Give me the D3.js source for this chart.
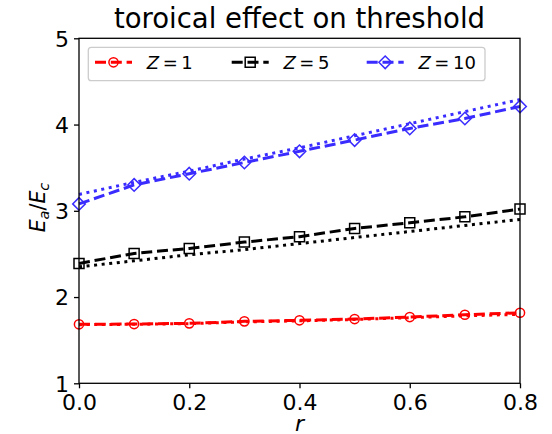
<!DOCTYPE html>
<html>
<head>
<meta charset="utf-8">
<script src="https://cdn.jsdelivr.net/npm/d3@7"></script>
<style>
  body { margin: 0; background: #fff; }
  text { font-family: "DejaVu Sans", sans-serif; }
</style>
</head>
<body>
<div id="chart"></div>
<script>
// values
const rVals = [0, 0.1, 0.2, 0.3, 0.4, 0.5, 0.6, 0.7, 0.8];
const z1Dash  = [1.684, 1.687, 1.695, 1.718, 1.730, 1.745, 1.768, 1.795, 1.818];
const z1Dot   = [1.680, 1.684, 1.692, 1.712, 1.724, 1.740, 1.760, 1.782, 1.800];
const z5Dash  = [2.39, 2.506, 2.564, 2.637, 2.70, 2.796, 2.861, 2.93, 3.02];
const z5Dot   = [2.35, 2.42, 2.49, 2.55, 2.62, 2.69, 2.76, 2.83, 2.90];
const z10Dash = [3.08, 3.30, 3.43, 3.56, 3.69, 3.82, 3.955, 4.07, 4.21];
const z10Dot  = [3.19, 3.33, 3.46, 3.60, 3.73, 3.87, 4.01, 4.15, 4.29];
const xTicks = [0, 0.2, 0.4, 0.6, 0.8];
const yTicks = [1, 2, 3, 4, 5];
const zLabels = ['1', '5', '10'];

const w = 552, h = 434;
const m = {top: 38.3, right: 32, bottom: 50.7, left: 79};

const x = d3.scaleLinear().domain([0, 0.8]).range([m.left, w - m.right]);
const y = d3.scaleLinear().domain([1, 5]).range([h - m.bottom, m.top]);

const svg = d3.select('#chart').append('svg')
    .attr('width', w)
    .attr('height', h);

const series = [
  {dash: z1Dash,  dot: z1Dot,  color: '#ff0000', marker: 'circle'},
  {dash: z5Dash,  dot: z5Dot,  color: '#000000', marker: 'square'},
  {dash: z10Dash, dot: z10Dot, color: '#3a2cff', marker: 'diamond'}
];

function markerPath(type) {
  if (type == 'circle') return d3.arc()({innerRadius: 0, outerRadius: 4.6, startAngle: 0, endAngle: 2 * Math.PI});
  if (type == 'square') return 'M-5,-5L5,-5L5,5L-5,5Z';
  return 'M0,-6.3L6.3,0L0,6.3L-6.3,0Z';
}

const line = d3.line()
    .x((d, i) => x(rVals[i]))
    .y(d => y(d));

const plot = svg.append('g');

series.forEach(s => {
  plot.append('path')
      .attr('d', line(s.dot))
      .attr('fill', 'none')
      .attr('stroke', s.color)
      .attr('stroke-width', 3)
      .attr('stroke-dasharray', '3,4.6');
  plot.append('path')
      .attr('d', line(s.dash))
      .attr('fill', 'none')
      .attr('stroke', s.color)
      .attr('stroke-width', 3)
      .attr('stroke-dasharray', '11,4.8');
  plot.selectAll(null)
      .data(s.dash)
      .enter()
      .append('path')
      .attr('d', markerPath(s.marker))
      .attr('transform', (d, i) => `translate(${x(rVals[i])},${y(d)})`)
      .attr('fill', 'none')
      .attr('stroke', s.color)
      .attr('stroke-width', 1.5);
});

// frame
svg.append('rect')
    .attr('x', m.left)
    .attr('y', m.top)
    .attr('width', w - m.left - m.right)
    .attr('height', h - m.top - m.bottom)
    .attr('fill', 'none')
    .attr('stroke', '#000')
    .attr('stroke-width', 1.3);

const xAxis = svg.append('g')
    .attr('transform', `translate(0,${h - m.bottom})`)
    .call(d3.axisBottom(x).tickValues(xTicks).tickFormat(d3.format('.1f')).tickSize(5).tickPadding(5));
const yAxis = svg.append('g')
    .attr('transform', `translate(${m.left},0)`)
    .call(d3.axisLeft(y).tickValues(yTicks).tickFormat(d3.format('d')).tickSize(5).tickPadding(5));

[xAxis, yAxis].forEach(ax => {
  ax.select('.domain').remove();
  ax.selectAll('line').attr('stroke', '#000').attr('stroke-width', 1.3);
  ax.selectAll('text')
      .attr('font-size', 22)
      .attr('fill', '#000')
      .style('font-family', '"DejaVu Sans", sans-serif');
});
xAxis.selectAll('text').attr('dy', '0.75em');
yAxis.selectAll('text').attr('dy', '0.36em');

// title and axis labels
svg.append('text')
    .attr('x', (m.left + w - m.right) / 2)
    .attr('y', 28)
    .attr('text-anchor', 'middle')
    .attr('font-size', 27.5)
    .text('toroical effect on threshold');

svg.append('text')
    .attr('x', (m.left + w - m.right) / 2)
    .attr('y', 431)
    .attr('text-anchor', 'middle')
    .attr('font-size', 22)
    .attr('font-style', 'italic')
    .text('r');

const ylab = svg.append('text')
    .attr('transform', `translate(45,207.5) rotate(-90)`)
    .attr('text-anchor', 'middle')
    .attr('font-size', 20.5);
ylab.append('tspan').attr('font-style', 'italic').text('E');
ylab.append('tspan').attr('font-style', 'italic').attr('font-size', 14.5).attr('dy', 4).text('a');
ylab.append('tspan').attr('dy', -4).text('/');
ylab.append('tspan').attr('font-style', 'italic').text('E');
ylab.append('tspan').attr('font-style', 'italic').attr('font-size', 14.5).attr('dy', 4).text('c');

// legend
const leg = svg.append('g');
leg.append('rect')
    .attr('x', 88.3)
    .attr('y', 47.3)
    .attr('width', 396.7)
    .attr('height', 33.4)
    .attr('rx', 3)
    .attr('fill', '#fff')
    .attr('fill-opacity', 0.8)
    .attr('stroke', '#cccccc')
    .attr('stroke-width', 1.3);

const legX = [95, 231.7, 366.7];
series.forEach((s, i) => {
  const lx = legX[i];
  leg.append('line')
      .attr('x1', lx).attr('x2', lx + 37)
      .attr('y1', 62.3).attr('y2', 62.3)
      .attr('stroke', s.color)
      .attr('stroke-width', 3)
      .attr('stroke-dasharray', '11,4.8');
  leg.append('path')
      .attr('d', markerPath(s.marker))
      .attr('transform', `translate(${lx + 18.5},62.3)`)
      .attr('fill', 'none')
      .attr('stroke', s.color)
      .attr('stroke-width', 1.5);
  const t = leg.append('text')
      .attr('x', lx + 51.7)
      .attr('y', 68.6)
      .attr('font-size', 18);
  t.append('tspan').attr('font-style', 'italic').text('Z');
  t.append('tspan').text('\u2009=\u2009' + zLabels[i]);
});
</script>
</body>
</html>
